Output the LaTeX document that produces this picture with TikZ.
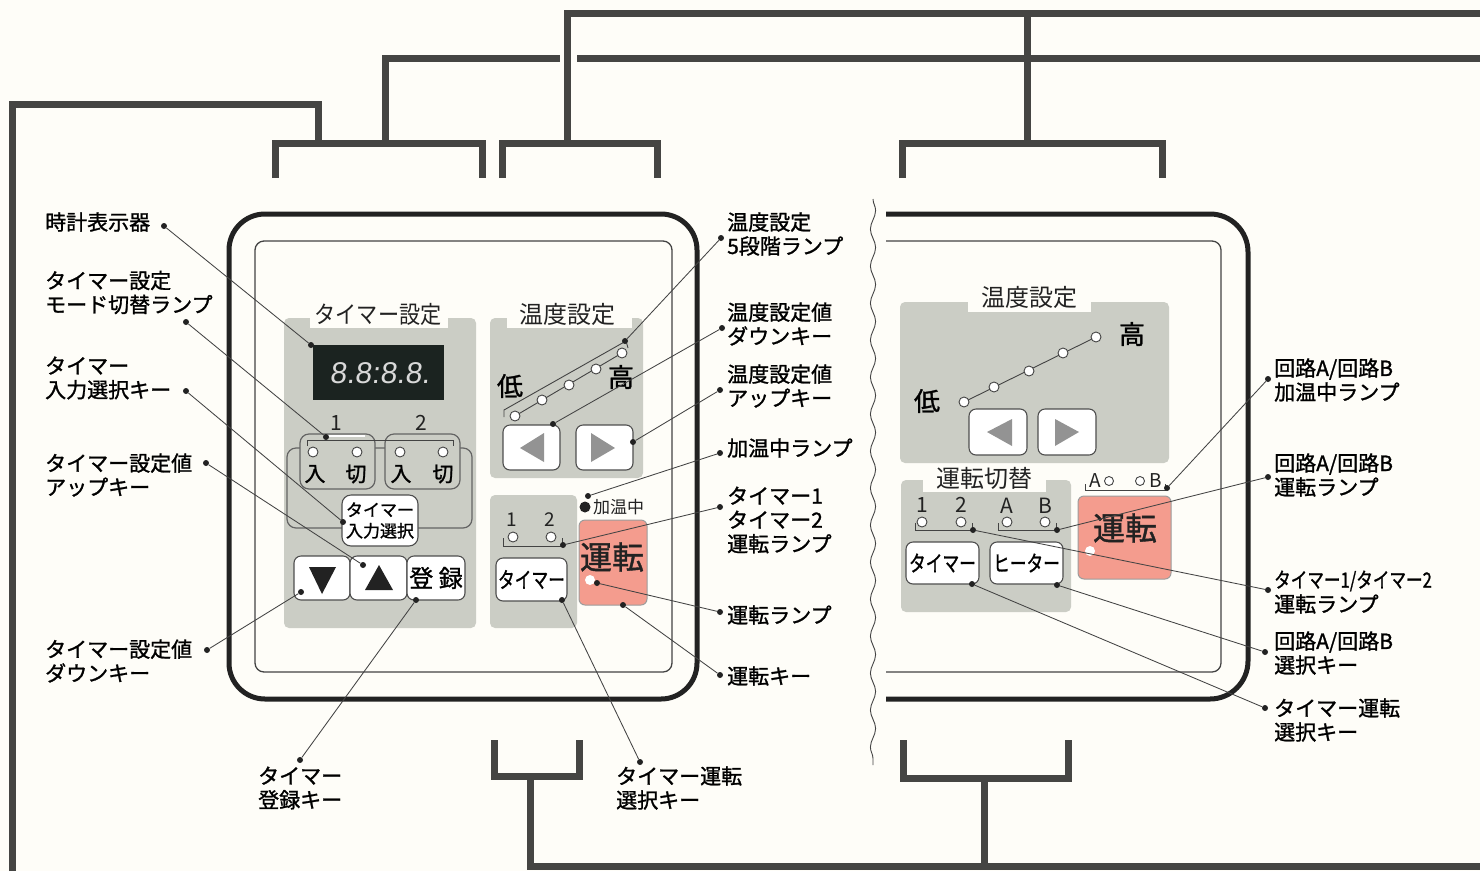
\documentclass[tikz,border=0pt]{standalone}
\usepackage{graphicx}
\usepackage{fontspec}
\setmainfont{Noto Sans CJK JP}
\newfontfamily\labfont[FakeBold=1.2]{Noto Sans CJK JP}
\newfontfamily\seg{Liberation Sans}
\usetikzlibrary{decorations.pathmorphing}
\definecolor{paper}{HTML}{FEFDF8}
\definecolor{panelg}{HTML}{CBCDC5}
\definecolor{bar}{HTML}{454543}
\definecolor{redk}{HTML}{F49C8E}
\definecolor{lcd}{HTML}{1B2320}
\definecolor{ink}{HTML}{222222}
\tikzset{
  x=1pt,y=-1pt,
  thickbar/.style={draw=bar,line width=7pt,line cap=butt,line join=miter},
  rim/.style={draw=ink,line width=5pt},
  inner rim/.style={draw=ink!85,line width=1.3pt},
  panel/.style={fill=panelg,rounded corners=5pt},
  keybox/.style={draw=ink!80,line width=1.1pt,fill=white,rounded corners=7pt},
  redkey/.style={fill=redk,draw=ink!45,line width=1pt,rounded corners=6pt},
  loopbox/.style={draw=ink!70,line width=1.2pt,rounded corners=9pt},
  bracketl/.style={draw=ink!85,line width=.9pt},
  lamp/.style={circle,draw=ink!85,fill=white,line width=.9pt,inner sep=0pt,minimum size=10pt},
  dotn/.style={circle,fill=ink,inner sep=0pt,minimum size=6pt},
  leaderline/.style={draw=ink!85,line width=.85pt},
  lab/.style={anchor=west,align=left,inner sep=0pt,text=black,font=\labfont\fontsize{21}{24}\selectfont},
  ttl/.style={inner sep=0pt,text=ink,font=\fontsize{24}{26}\selectfont},
  num/.style={inner sep=0pt,text=ink,font=\fontsize{21}{22}\selectfont},
  big/.style={inner sep=0pt,text=black,font=\labfont\fontsize{26}{28}\selectfont},
  lil/.style={big,font=\labfont\fontsize{21}{22}\selectfont},
  keytext/.style={inner sep=0pt,text=black,font=\labfont\fontsize{22}{24}\selectfont},
  runtext/.style={inner sep=0pt,text=ink,font=\labfont\fontsize{32}{34}\selectfont},
}
\newcommand\leader[3]{%
  \node[dotn] (#1a) at (#2) {};
  \node[dotn] (#1b) at (#3) {};
  \draw[leaderline] (#1a) -- (#1b);}
\begin{document}
\begin{tikzpicture}
\useasboundingbox (0,0) rectangle (1480,871);
\fill[paper] (0,0) rectangle (1480,871);
% heavy bus bars
\draw[thickbar] (12,871) -- (12,104) -- (318,104) -- (318,143);
\draw[thickbar] (275,178) -- (275,143) -- (482,143) -- (482,178);
\draw[thickbar] (385,143) -- (385,58) -- (560,58);
\draw[thickbar] (577,58) -- (1480,58);
\draw[thickbar] (567,143) -- (567,13) -- (1480,13);
\draw[thickbar] (502,178) -- (502,143) -- (657,143) -- (657,178);
\draw[thickbar] (1027,13) -- (1027,143);
\draw[thickbar] (902,178) -- (902,143) -- (1162,143) -- (1162,178);
\draw[thickbar] (494,740) -- (494,776) -- (579,776) -- (579,740);
\draw[thickbar] (530,776) -- (530,866) -- (1480,866);
\draw[thickbar] (903,740) -- (903,778) -- (1068,778) -- (1068,740);
\draw[thickbar] (984,778) -- (984,866);
% left unit
\draw[rim,rounded corners=36pt] (229,214) rectangle (697,699);
\draw[inner rim,rounded corners=9pt] (255,241) rectangle (672,672);
% right unit
\draw[rim,rounded corners=38pt] (886,214) -- (1248,214) -- (1248,699) -- (886,699);
\draw[inner rim,rounded corners=9pt] (886,241) -- (1221,241) -- (1221,672) -- (886,672);
\draw[ink!85,line width=.9pt,decorate,decoration={snake,amplitude=2.6pt,segment length=37pt}] (873,199) -- (873,765);
% panels left
\fill[panel] (284,318) rectangle (476,628);
\fill[paper] (310,314) rectangle (448,328);
\fill[panel] (490,318) rectangle (643,478);
\fill[paper] (507,314) rectangle (632,328);
\fill[panel] (490,495) rectangle (577,628);
\node[ttl] (t1) at (378,314) {\scalebox{.88}[1]{タイマー設定}};
\node[ttl] (t2) at (567,314) {温度設定};
% display
\fill[lcd] (313,345) rectangle (444,400);
\node[inner sep=0pt,text=white!85!black,xslant=.12,font=\seg\fontsize{30}{32}\selectfont] (disp) at (381,373) {8.8:8.8.};
% timer lamps
\node[num] (n1) at (336,423) {1};
\node[num] (n2) at (421,423) {2};
\draw[loopbox] (287,448) rectangle (472,528);
\draw[loopbox,fill=panelg] (300,434) rectangle (375,489);
\draw[loopbox,fill=panelg] (385,434) rectangle (460,489);
\draw[bracketl] (307,446) -- (307,440) -- (453,440) -- (453,446);
\draw[white,line width=1.6pt] (327,436) -- (365,436);
\node[lamp] (la) at (313,452) {};
\node[lamp] (lb) at (357,452) {};
\node[lamp] (lc) at (400,452) {};
\node[lamp] (ld) at (443,452) {};
\node[lil] (e1) at (315,474) {入};
\node[lil] (e2) at (356,474) {切};
\node[lil] (e3) at (401,474) {入};
\node[lil] (e4) at (443,474) {切};
\path[keybox,rounded corners=9pt] (342,495) rectangle (418,546) node[pos=.5,align=center,inner sep=0pt,text=black,font=\labfont\fontsize{17}{21}\selectfont] (sel) {タイマー\\入力選択};
\path[keybox] (294,556) rectangle (350,600) node[pos=.5] (kdn) {};
\path[keybox] (350,556) rectangle (407,600) node[pos=.5] (kup) {};
\path[keybox] (407,556) rectangle (465,600) node[pos=.5,inner sep=0pt,font=\labfont\fontsize{24}{26}\selectfont,text=black] (kreg) {登 録};
\fill[ink] (309,567) -- (336,567) -- (322,594) -- cycle;
\fill[ink] (365,590) -- (393,590) -- (379,565) -- cycle;
% temp block left
\draw[bracketl] (504,417) -- (504,410) -- (626,341) -- (628,348);
\draw[bracketl] (515,416) -- (622,353);
\node[lamp] (t1a) at (515,416) {};
\node[lamp] (t1b) at (542,400) {};
\node[lamp] (t1c) at (569,385) {};
\node[lamp] (t1d) at (596,369) {};
\node[lamp] (t1e) at (622,353) {};
\node[big] (lo1) at (510,386) {低};
\node[big] (hi1) at (621,377) {高};
\path[keybox] (503,425) rectangle (560,470) node[pos=.5] (kl1) {};
\path[keybox] (576,425) rectangle (633,470) node[pos=.5] (kr1) {};
\fill[gray!85] (520,448) -- (544,433) -- (544,462) -- cycle;
\fill[gray!85] (615,448) -- (591,433) -- (591,462) -- cycle;
% run block left
\node[num,font=\fontsize{19}{20}\selectfont] (r1) at (512,520) {1};
\node[num,font=\fontsize{19}{20}\selectfont] (r2) at (550,520) {2};
\node[lamp] (rl1) at (513,537) {};
\node[lamp] (rl2) at (551,537) {};
\draw[bracketl] (503,538) -- (503,546) -- (562,546) -- (562,538);
\path[keybox] (496,558) rectangle (567,601) node[pos=.5,keytext] (ktm1) {\scalebox{.76}[1]{タイマー}};
\path[redkey] (579,520) rectangle (647,605) node[pos=.5,inner sep=0pt] (krun1) {};
\node[runtext] (run1) at (612,557) {運転};
\node[lamp,draw=none] (runl1) at (590,580) {};
\node[circle,fill=ink,inner sep=0pt,minimum size=11pt] (hd) at (585,507) {};
\node[inner sep=0pt,anchor=west,text=ink,font=\fontsize{17}{19}\selectfont] (hl) at (593,507) {加温中};
% panels right
\fill[panel] (900,302) rectangle (1169,463);
\fill[paper] (968,298) rectangle (1091,312);
\fill[panel] (901,480) rectangle (1071,612);
\fill[paper] (923,476) rectangle (1046,492);
\node[ttl] (t3) at (1029,297) {温度設定};
\node[ttl] (t4) at (984,478) {運転切替};
\draw[bracketl] (964,402) -- (1096,337);
\node[lamp] (t2a) at (964,402) {};
\node[lamp] (t2b) at (994,387) {};
\node[lamp] (t2c) at (1029,371) {};
\node[lamp] (t2d) at (1063,353) {};
\node[lamp] (t2e) at (1096,337) {};
\node[big] (lo2) at (927,401) {低};
\node[big] (hi2) at (1132,334) {高};
\path[keybox] (969,409) rectangle (1027,455) node[pos=.5] (kl2) {};
\path[keybox] (1038,409) rectangle (1096,455) node[pos=.5] (kr2) {};
\fill[gray!85] (987,432) -- (1012,419) -- (1012,446) -- cycle;
\fill[gray!85] (1079,432) -- (1055,419) -- (1055,446) -- cycle;
\node[num] (c1) at (922,505) {1};
\node[num] (c2) at (961,505) {2};
\node[num] (c3) at (1007,506) {A};
\node[num] (c4) at (1045,506) {B};
\node[lamp] (s1) at (922,522) {};
\node[lamp] (s2) at (961,522) {};
\node[lamp] (s3) at (1007,522) {};
\node[lamp] (s4) at (1045,522) {};
\draw[bracketl] (915,523) -- (915,530) -- (972,530) -- (972,523);
\draw[bracketl] (998,523) -- (998,530) -- (1056,530) -- (1056,523);
\path[keybox] (906,542) rectangle (979,584) node[pos=.5,keytext] (ktm2) {\scalebox{.76}[1]{タイマー}};
\path[keybox] (990,542) rectangle (1063,584) node[pos=.5,keytext] (khe) {\scalebox{.76}[1]{ヒーター}};
\path[redkey] (1078,496) rectangle (1171,579) node[pos=.5] (krun2) {};
\node[runtext] (run2) at (1125,528) {運転};
\node[lamp,draw=none] (runl2) at (1090,551) {};
\node[num,font=\fontsize{19}{20}\selectfont] (ca) at (1095,481) {A};
\node[num,font=\fontsize{19}{20}\selectfont] (cb) at (1156,481) {B};
\node[lamp,minimum size=9pt] (ha) at (1109,481) {};
\node[lamp,minimum size=9pt] (hb) at (1140,481) {};
\draw[bracketl] (1085,484) -- (1085,490) -- (1165,490) -- (1165,484);
% labels
\node[lab] (L1) at (45,222) {時計表示器};
\node[lab] (L2) at (45,292.5) {タイマー設定\\モード切替ランプ};
\node[lab] (L3) at (45,378) {タイマー\\入力選択キー};
\node[lab] (L4) at (45,475) {タイマー設定値\\アップキー};
\node[lab] (L5) at (45,661) {タイマー設定値\\ダウンキー};
\node[lab] (L6) at (258,788) {タイマー\\登録キー};
\node[lab] (L7) at (616,788) {タイマー運転\\選択キー};
\node[lab] (R1) at (727,234) {温度設定\\5段階ランプ};
\node[lab] (R2) at (727,324) {温度設定値\\ダウンキー};
\node[lab] (R3) at (727,386) {温度設定値\\アップキー};
\node[lab] (R4) at (727,448) {加温中ランプ};
\node[lab] (R5) at (727,520) {タイマー1\\タイマー2\\運転ランプ};
\node[lab] (R6) at (727,615) {運転ランプ};
\node[lab] (R7) at (727,676) {運転キー};
\node[lab] (S1) at (1274,380) {回路A/回路B\\加温中ランプ};
\node[lab] (S2) at (1274,475) {回路A/回路B\\運転ランプ};
\node[lab] (S3a) at (1274,581) {\scalebox{.79}[1]{タイマー1/タイマー2}};
\node[lab] (S3b) at (1274,604) {運転ランプ};
\node[lab] (S4) at (1274,653) {回路A/回路B\\選択キー};
\node[lab] (S5) at (1274,720) {タイマー運転\\選択キー};
% leaders
\leader{a}{164,226}{311,345}
\leader{b}{186,322}{326,437}
\leader{c}{186,391}{343,522}
\leader{d}{206,463}{363,565}
\leader{e}{207,650}{301,592}
\leader{f}{300,760}{416,600}
\leader{g}{640,762}{562,600}
\leader{h}{720,675}{623,605}
\leader{i}{720,612}{597,583}
\leader{j}{720,507}{563,545}
\leader{k}{720,453}{588,496}
\leader{l}{720,390}{633,442}
\leader{m}{722,328}{553,424}
\leader{n}{721,238}{625,341}
\leader{o}{1268,379}{1167,488}
\leader{p}{1268,477}{1057,530}
\leader{q}{1268,590}{973,530}
\leader{r}{1265,652}{1057,585}
\leader{s}{1265,708}{972,584}
\end{tikzpicture}
\end{document}
